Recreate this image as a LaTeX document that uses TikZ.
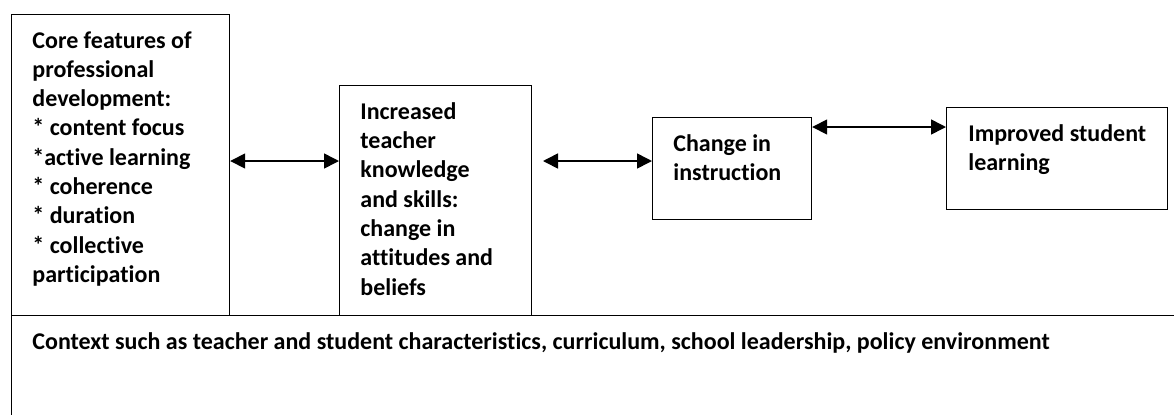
\documentclass[tikz,border=0pt]{standalone}
\usepackage{fontspec}
\setmainfont{Carlito}[Ligatures=NoCommon]
\usepackage{tikz}
\usetikzlibrary{arrows.meta}
\tikzstyle{frame} = [rectangle, draw=black, line width=0.6pt, anchor=north west, inner sep=0pt]
\tikzstyle{txt} = [anchor=north west, align=left, inner sep=0pt, font=\bfseries\fontsize{12pt}{14.65pt}\selectfont]
\tikzstyle{arrow} = [line width=0.8pt, <->, >={Triangle[length=7.5pt,width=7.5pt]}]

\begin{document}
\begin{tikzpicture}[x=0.5pt, y=-0.5pt]
\path[use as bounding box, clip] (0,0) rectangle (1174,414);
% context band along the bottom
\node (context) [frame, minimum width=600pt, minimum height=100pt] at (11,315) {};
\node (contexttext) [txt] at ([shift={(21,17)}]context.north west) {Context such as teacher and student characteristics, curriculum, school leadership, policy environment};
% boxes
\node (core) [frame, minimum width=109pt, minimum height=150.5pt] at (11,14) {};
\node (know) [frame, minimum width=96pt, minimum height=115pt] at (339,85) {};
\node (instr) [frame, minimum width=79.5pt, minimum height=51pt] at (652,117) {};
\node (learn) [frame, minimum width=110.5pt, minimum height=51pt] at (946,107) {};
\node (coretext) [txt] at ([shift={(21,17)}]core.north west) {Core features of\\professional\\development:\\* content focus\\*active learning\\* coherence\\* duration\\* collective\\participation};
\node (knowtext) [txt] at ([shift={(21,17)}]know.north west) {Increased\\teacher\\knowledge\\and skills:\\change in\\attitudes and\\beliefs};
\node (instrtext) [txt] at ([shift={(21,17)}]instr.north west) {Change in\\instruction};
\node (learntext) [txt] at ([shift={(22,17)}]learn.north west) {Improved student\\learning};
% arrows
\coordinate (knowout) at (543,161);
\draw [arrow] (core.east |- 0,161) -- (know.west |- 0,161);
\draw [arrow] (knowout) -- (instr.west |- knowout);
\draw [arrow] (instr.east |- 0,127) -- (learn.west |- 0,127);
\end{tikzpicture}
\end{document}
